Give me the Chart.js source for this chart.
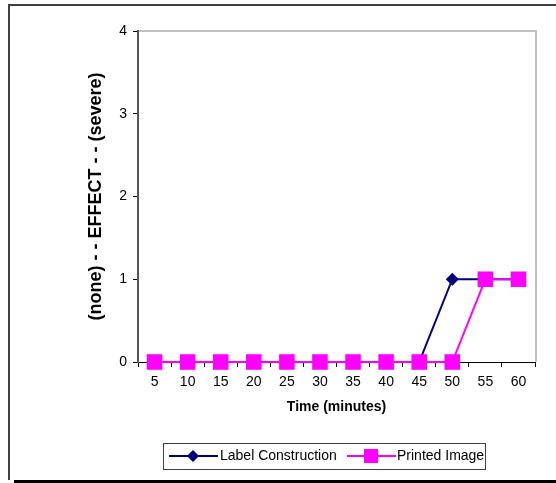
<!DOCTYPE html>
<html>
<head>
<meta charset="utf-8">
<script src="https://cdn.jsdelivr.net/npm/chart.js@4/dist/chart.umd.min.js"></script>
<style>
  html, body { margin: 0; padding: 0; background: #fff; }
  #wrap { position: relative; width: 556px; height: 483px; }
</style>
</head>
<body>
<div id="wrap"><canvas id="myChart" width="556" height="483"></canvas></div>
<script>
const times = ['5','10','15','20','25','30','35','40','45','50','55','60'];
const labelConstruction = [0,0,0,0,0,0,0,0,0,1,1,1];
const printedImage = [0,0,0,0,0,0,0,0,0,0,1,1];
const yTicks = [0,1,2,3,4];

const FONT = "'Liberation Sans', Arial, sans-serif";

// frame round the whole chart, the grey plot border and the legend box
const framePlugin = {
  id: 'frame',
  beforeDraw(chart){
    const ctx = chart.ctx;
    const a = chart.chartArea;
    ctx.save();
    ctx.fillStyle = '#fff';
    ctx.fillRect(0, 0, chart.width, chart.height);
    ctx.strokeStyle = '#404040';
    ctx.lineWidth = 2;
    ctx.beginPath();
    ctx.moveTo(556, 5);
    ctx.lineTo(9, 5);
    ctx.lineTo(9, 480);
    ctx.stroke();
    ctx.fillStyle = '#000';
    ctx.fillRect(14, 480, 542, 3);
    // grey top / right border of plot
    ctx.strokeStyle = '#c0c0c0';
    ctx.lineWidth = 2;
    ctx.beginPath();
    ctx.moveTo(a.left, a.top);
    ctx.lineTo(a.right + 1, a.top);
    ctx.lineTo(a.right + 1, a.bottom);
    ctx.stroke();
    ctx.restore();
  },
  afterDraw(chart){
    const ctx = chart.ctx;
    ctx.save();
    ctx.strokeStyle = '#404040';
    ctx.lineWidth = 1;
    ctx.strokeRect(163.5, 443.5, 322, 26);
    const items = [{x: 169, tx: 220}, {x: 347, tx: 397}];
    chart.data.datasets.forEach(function(ds, i){
      const it = items[i];
      const y = 456;
      ctx.strokeStyle = ds.borderColor;
      ctx.lineWidth = 2;
      ctx.beginPath();
      ctx.moveTo(it.x, y);
      ctx.lineTo(it.x + 49, y);
      ctx.stroke();
      ctx.fillStyle = ds.backgroundColor;
      const cx = it.x + 24;
      if(ds.pointStyle === 'rectRot'){
        ctx.beginPath();
        ctx.moveTo(cx, y - 6);
        ctx.lineTo(cx + 6, y);
        ctx.lineTo(cx, y + 6);
        ctx.lineTo(cx - 6, y);
        ctx.closePath();
        ctx.fill();
      }else{
        ctx.fillRect(cx - 7, y - 7, 14, 14);
      }
      ctx.fillStyle = '#000';
      ctx.font = '14px ' + FONT;
      ctx.textBaseline = 'middle';
      ctx.textAlign = 'left';
      ctx.fillText(ds.label, it.tx, y);
    });
    ctx.restore();
  }
};

const data = {
  labels: times,
  datasets: [{
    label: 'Label Construction',
    data: labelConstruction,
    borderColor: '#000080',
    backgroundColor: '#000080',
    borderWidth: 2,
    pointStyle: 'rectRot',
    pointRadius: 6.5,
    pointBorderWidth: 0,
    tension: 0,
    clip: false,
    order: 1
  }, {
    label: 'Printed Image',
    data: printedImage,
    borderColor: '#ff00ff',
    backgroundColor: '#ff00ff',
    borderWidth: 2,
    pointStyle: 'rect',
    pointRadius: 11,
    pointBorderWidth: 0,
    tension: 0,
    clip: false,
    order: 0
  }]
};

const config = {
  type: 'line',
  data: data,
  plugins: [framePlugin],
  options: {
    responsive: false,
    animation: false,
    events: [],
    layout: { padding: { top: 31, right: 21, bottom: 67, left: 85 } },
    plugins: {
      legend: { display: false },
      tooltip: { enabled: false }
    },
    scales: {
      x: {
        offset: true,
        grid: { offset: true, drawOnChartArea: false, drawTicks: true, tickLength: 5, tickColor: '#000', lineWidth: 1 },
        border: { color: '#000', width: 1 },
        ticks: { color: '#000', font: { family: FONT, size: 14 }, padding: 7, maxRotation: 0, autoSkip: false },
        title: { display: true, text: 'Time (minutes)', color: '#000', font: { family: FONT, size: 14, weight: 'bold' }, padding: 0 },
        afterFit(scale){ scale.height = 54; }
      },
      y: {
        min: 0,
        max: 4,
        afterBuildTicks(scale){ scale.ticks = yTicks.map(function(v){ return {value: v}; }); },
        grid: { drawOnChartArea: false, drawTicks: true, tickLength: 5, tickColor: '#000' },
        border: { color: '#555', width: 2 },
        ticks: { color: '#000', font: { family: FONT, size: 14 }, padding: 6 },
        title: { display: true, text: '(none) - - EFFECT - - (severe)', color: '#000', font: { family: FONT, size: 18, weight: 'bold' }, padding: { top: 0, bottom: 0 } },
        afterFit(scale){ scale.width = 53; }
      }
    }
  }
};

const myChart = new Chart(document.getElementById('myChart'), config);
</script>
</body>
</html>
